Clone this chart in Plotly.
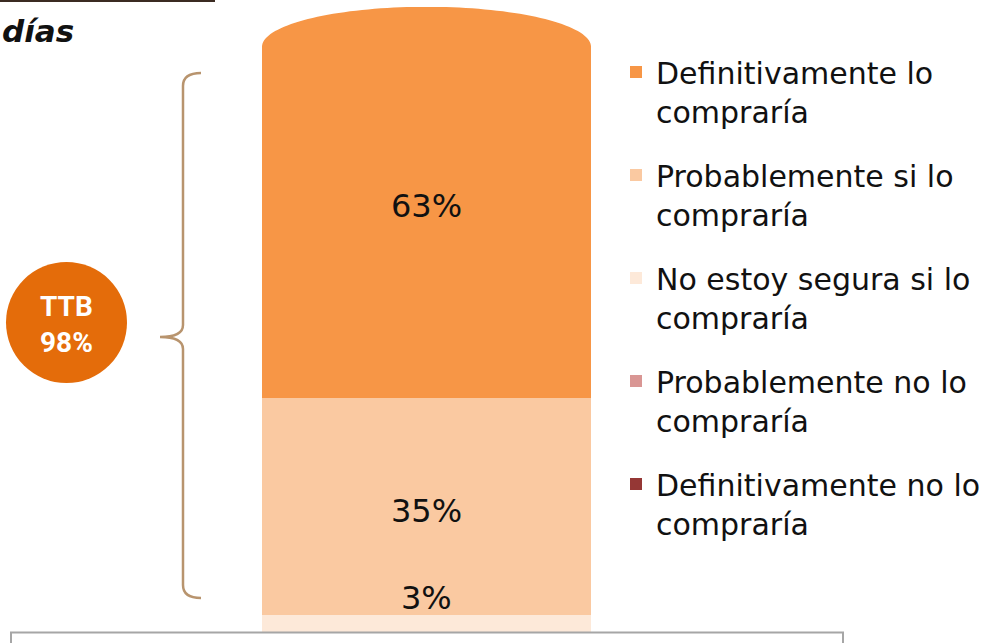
import numpy as np
import plotly.graph_objects as go

# ---- data ----
categories = ["Intención de compra"]
series_names = [
    "Definitivamente no lo<br>compraría",
    "Probablemente no lo<br>compraría",
    "No estoy segura si lo<br>compraría",
    "Probablemente si lo<br>compraría",
    "Definitivamente lo<br>compraría",
]
series_values = [0, 0, 3, 35, 63]
series_labels = ["", "", "3%", "35%", "63%"]
series_colors = ["#953735", "#D99694", "#FDE9D9", "#FAC9A1", "#F79646"]
legend_ranks = [5, 4, 3, 2, 1]
ttb_label = "TTB<br>98%"
title_fragment = "días"

W, H = 988, 643
BASE_PX = 634.0      # pixel row of value 0
SCALE = 6.21         # pixels per percentage point
CAP_PX = 40.0        # height of the rounded cap


def px(x):
    return x / W


def py(y):
    return 1 - y / H


fig = go.Figure()
for name, val, col, rk in zip(series_names, series_values, series_colors, legend_ranks):
    fig.add_trace(go.Bar(
        x=[0], y=[val], width=[1.0], name=name,
        marker=dict(color=col, line=dict(width=0)),
        legendgroup=name, legendrank=rk, hoverinfo="skip",
    ))

# value labels
cum = np.cumsum(series_values)
starts = cum - np.array(series_values)
label_font = dict(family="DejaVu Sans, Lato, sans-serif", size=32, color="#111111")
for lab, s, v in zip(series_labels, starts, series_values):
    if not lab:
        continue
    if v < 5:
        fig.add_annotation(x=0, y=s + v, text=lab, showarrow=False,
                           yanchor="bottom", yshift=-4, font=label_font)
    else:
        fig.add_annotation(x=0, y=s + v / 2, text=lab, showarrow=False,
                           yanchor="middle", yshift=-4, font=label_font)

total = float(cum[-1])
hcap = CAP_PX / SCALE
theta_l = np.linspace(np.pi, np.pi / 2, 40)
theta_r = np.linspace(0, np.pi / 2, 40)


def mask_path(thetas, side):
    xe = 0.5 * np.cos(thetas)
    ye = (total - hcap) + hcap * np.sin(thetas)
    edge = -0.62 if side < 0 else 0.62
    p = f"M {edge},{total + 3} L {edge},{total - hcap} "
    for a, b in zip(xe, ye):
        p += f"L {a:.4f},{b:.4f} "
    p += f"L 0,{total + 3} Z"
    return p


for th, sd in ((theta_l, -1), (theta_r, 1)):
    fig.add_shape(type="path", xref="x", yref="y", path=mask_path(th, sd),
                  fillcolor="white", line=dict(width=0), layer="above")

# brace
bx, top, mid, bot = 183, 73, 337, 598
pts = [
    ("M", 201, top), ("Q", bx, top, bx, top + 13), ("L", bx, mid - 12),
    ("Q", bx, mid, 160, mid), ("Q", bx, mid, bx, mid + 12),
    ("L", bx, bot - 13), ("Q", bx, bot, 201, bot),
]
path = ""
for p in pts:
    cmd = p[0]
    coords = p[1:]
    pairs = [f"{px(coords[i]):.5f},{py(coords[i+1]):.5f}" for i in range(0, len(coords), 2)]
    path += cmd + " " + " ".join(pairs) + " "
fig.add_shape(type="path", xref="paper", yref="paper", path=path,
              line=dict(color="#B8946E", width=2.5))

# TTB circle
fig.add_shape(type="circle", xref="paper", yref="paper",
              x0=px(6), x1=px(127), y0=py(383), y1=py(262),
              fillcolor="#E46C0A", line=dict(width=0))
fig.add_annotation(xref="paper", yref="paper", x=px(66.5), y=py(324),
                   xanchor="center", yanchor="middle", align="center",
                   text=f"<b>{ttb_label}</b>", showarrow=False,
                   font=dict(family="Liberation Sans Narrow, Roboto, sans-serif",
                             size=28, color="white"))

# title fragment and top strip
fig.add_annotation(xref="paper", yref="paper", x=0, y=py(31), xanchor="left",
                   yanchor="middle", text=f"<b><i>{title_fragment}</i></b>",
                   showarrow=False,
                   font=dict(family="DejaVu Sans, sans-serif", size=31, color="#111111"))
fig.add_shape(type="rect", xref="paper", yref="paper", x0=0, x1=px(215),
              y0=py(2), y1=py(0), fillcolor="#3B2B22", line=dict(width=0))

# bottom box
fig.add_shape(type="rect", xref="paper", yref="paper", x0=px(11), x1=px(843),
              y0=py(680), y1=py(632.5), fillcolor="white",
              line=dict(color="#A6A6A6", width=2), layer="above")

fig.update_layout(
    width=W, height=H,
    margin=dict(l=0, r=0, t=0, b=0),
    paper_bgcolor="white", plot_bgcolor="white",
    barmode="stack",
    showlegend=True,
    xaxis=dict(range=[-426.5 / 329, (W - 426.5) / 329], visible=False, fixedrange=True),
    yaxis=dict(range=[-(H - BASE_PX) / SCALE, BASE_PX / SCALE], visible=False, fixedrange=True),
    legend=dict(
        x=px(616), y=py(46), xanchor="left", yanchor="top",
        traceorder="grouped", tracegroupgap=22, valign="top",
        font=dict(family="DejaVu Sans, sans-serif", size=30, color="#111111"),
        bgcolor="rgba(0,0,0,0)",
    ),
)

fig.write_html("out.html", config={"displayModeBar": False},
               post_script="document.body.style.margin='0px';")
